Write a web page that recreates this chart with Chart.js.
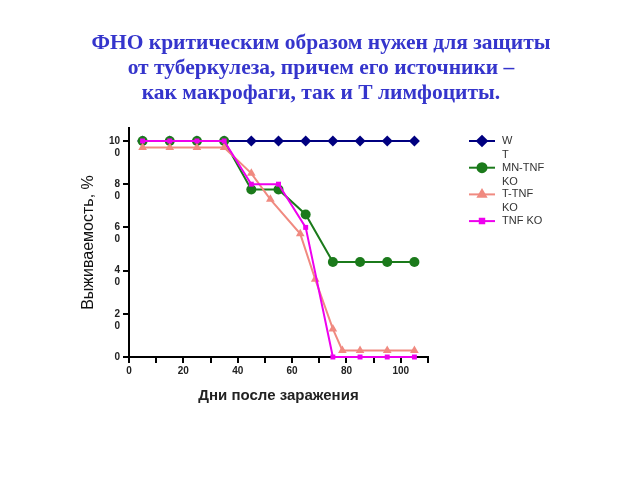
<!DOCTYPE html>
<html>
<head>
<meta charset="utf-8">
<script src="https://cdn.jsdelivr.net/npm/chart.js@4/dist/chart.umd.min.js"></script>
<style>
  body { margin: 0; background: #fff; }
  #wrap { position: relative; width: 640px; height: 480px; }
  #title {
    position: absolute; left: 0; top: 30px; width: 642px; text-align: center;
    font: bold 21.5px "Liberation Serif", serif; line-height: 25px; color: #3535cc;
  }
  canvas { position: absolute; left: 0; top: 0; }
</style>
</head>
<body>
<div id="wrap">
  <canvas id="c" width="640" height="480"></canvas>
  <div id="title">ФНО критическим образом нужен для защиты<br>от туберкулеза, причем его источники –<br>как макрофаги, так и Т лимфоциты.</div>
</div>
<script>
// data
const days = [5, 15, 25, 35, 45, 55, 65, 75, 85, 95, 105];
const wt = [100, 100, 100, 100, 100, 100, 100, 100, 100, 100, 100];
const mnTnfKo = [100, 100, 100, 100, 77.5, 77.5, 66, 44, 44, 44, 44];
const tTnfDays = [5, 15, 25, 35, 45, 52, 63, 68.5, 75, 78.5, 85, 95, 105];
const tTnfKo = [97, 97, 97, 97, 85, 73, 57, 36, 13, 3, 3, 3, 3];
const tnfKo = [100, 100, 100, 100, 80, 80, 60, 0, 0, 0, 0];
const seriesLabels = [['W', 'T'], ['MN-TNF', 'KO'], ['T-TNF', 'KO'], ['TNF KO']];
const yTicks = [0, 20, 40, 60, 80, 100];

const pts = (xs, ys) => xs.map((x, i) => ({ x: x, y: ys[i] }));

// legend on the right, drawn by hand
const sideLegend = {
  id: 'sideLegend',
  afterDraw(chart) {
    const ctx = chart.ctx;
    chart.data.datasets.forEach((ds, i) => {
      const y = 141 + i * 26.7;
      ctx.save();
      ctx.strokeStyle = ds.borderColor;
      ctx.lineWidth = 2;
      ctx.beginPath();
      ctx.moveTo(469, y);
      ctx.lineTo(495, y);
      ctx.stroke();
      ctx.fillStyle = ds.pointBackgroundColor;
      Chart.helpers.drawPoint(ctx, {
        pointStyle: ds.pointStyle, radius: ds.pointRadius * 0.9, rotation: 0, borderWidth: 1
      }, 482, y);
      ctx.fill();
      ctx.fillStyle = '#333';
      ctx.font = '11px "Liberation Sans", Arial, sans-serif';
      ctx.textBaseline = 'middle';
      seriesLabels[i].forEach((t, k) => ctx.fillText(t, 502, y + k * 14));
      ctx.restore();
    });
  }
};

new Chart(document.getElementById('c'), {
  type: 'line',
  data: {
    datasets: [{
      label: seriesLabels[0].join(''),
      data: pts(days, wt),
      borderColor: '#000080',
      backgroundColor: '#000080',
      pointBackgroundColor: '#000080',
      pointStyle: 'rectRot',
      pointRadius: 5.5,
      order: 4
    }, {
      label: seriesLabels[1].join(' '),
      data: pts(days, mnTnfKo),
      borderColor: '#1b7a1b',
      backgroundColor: '#1b7a1b',
      pointBackgroundColor: '#1b7a1b',
      pointStyle: 'circle',
      pointRadius: 5,
      order: 3
    }, {
      label: seriesLabels[2].join(' '),
      data: pts(tTnfDays, tTnfKo),
      borderColor: '#f08a80',
      backgroundColor: '#f08a80',
      pointBackgroundColor: '#f08a80',
      pointStyle: 'triangle',
      pointRadius: 5,
      order: 2
    }, {
      label: seriesLabels[3][0],
      data: pts(days, tnfKo),
      borderColor: '#ee00ee',
      backgroundColor: '#ee00ee',
      pointBackgroundColor: '#ee00ee',
      pointStyle: 'rect',
      pointRadius: 3.5,
      order: 1
    }].map(ds => Object.assign(ds, { borderWidth: 2, pointBorderWidth: 0, tension: 0, clip: false }))
  },
  options: {
    responsive: false,
    animation: false,
    layout: { padding: { left: 75, right: 212, top: 128, bottom: 71 } },
    plugins: { legend: { display: false }, tooltip: { enabled: false } },
    scales: {
      x: {
        type: 'linear',
        min: 0,
        max: 110,
        afterFit: s => { s.height = 52; },
        border: { color: '#000', width: 2 },
        grid: { drawOnChartArea: false, color: '#000', lineWidth: 2, tickLength: 6 },
        ticks: {
          stepSize: 10,
          autoSkip: false,
          maxRotation: 0,
          padding: 2,
          color: '#222',
          font: { family: '"Liberation Sans", Arial, sans-serif', size: 10, weight: 'bold' },
          callback: v => (v % 20 === 0 && v <= 100) ? String(v) : ''
        },
        title: {
          display: true,
          text: 'Дни после заражения',
          color: '#222',
          font: { family: '"Liberation Sans", Arial, sans-serif', size: 15, weight: 'bold' }
        }
      },
      y: {
        min: 0,
        max: 106,
        afterFit: s => { s.width = 54; },
        afterBuildTicks: s => { s.ticks = yTicks.map(v => ({ value: v })); },
        border: { color: '#000', width: 2 },
        grid: { drawOnChartArea: false, color: '#000', lineWidth: 2, tickLength: 6 },
        ticks: {
          padding: 3,
          color: '#222',
          font: { family: '"Liberation Sans", Arial, sans-serif', size: 10, weight: 'bold' },
          callback: v => {
            const s = String(v);
            return v === 0 ? s : ['', s.slice(0, -1), s.slice(-1)];
          }
        },
        title: {
          display: true,
          text: 'Выживаемость, %',
          color: '#111',
          font: { family: '"Liberation Sans", Arial, sans-serif', size: 16 }
        }
      }
    }
  },
  plugins: [sideLegend]
});
</script>
</body>
</html>
